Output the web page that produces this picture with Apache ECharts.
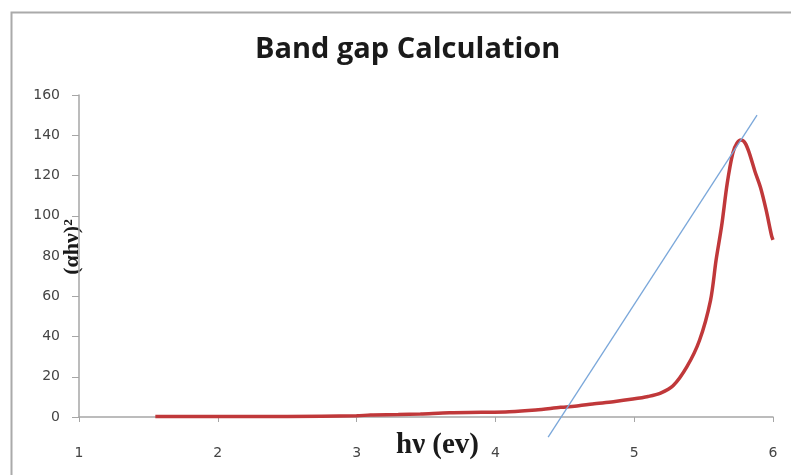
<!DOCTYPE html>
<html>
<head>
<meta charset="utf-8">
<script src="https://cdn.jsdelivr.net/npm/echarts@6/dist/echarts.min.js"></script>
<style>html,body{margin:0;padding:0;background:#fff}#c{width:791px;height:475px}</style>
</head>
<body>
<div id="c"></div>
<script>
const titleText = "Band gap Calculation";
const xAxisTitle = "hν (ev)";
const yAxisTitle = "(αhν)²";
const xTicks = [1, 2, 3, 4, 5, 6];
const yTicks = [0, 20, 40, 60, 80, 100, 120, 140, 160];

const curveX = [1.55, 2.0, 2.5, 3.0, 3.1, 3.3, 3.46, 3.67, 3.9, 4.1, 4.29, 4.47, 4.6, 4.7, 4.85, 4.99, 5.1, 5.19, 5.28, 5.38, 5.47, 5.55, 5.59, 5.63, 5.67, 5.71, 5.74, 5.77, 5.8, 5.83, 5.87, 5.91, 5.95, 5.99, 6.0];
const curveY = [0.2, 0.2, 0.3, 0.6, 1.0, 1.2, 1.5, 2.1, 2.3, 2.6, 3.5, 4.8, 5.6, 6.5, 7.6, 8.9, 10.2, 11.9, 15.5, 25, 38, 58, 78, 95, 116, 131, 136, 137.6, 136, 131, 122, 114, 103, 90, 88];

const fitX = [4.38, 5.885];
const fitY = [-10, 150];

const chart = echarts.init(document.getElementById('c'));
chart.setOption({
  animation: false,
  backgroundColor: '#fff',
  title: {
    text: titleText, left: 250, top: 30,
    textStyle: { fontFamily: 'Open Sans', fontWeight: 'bold', fontSize: 29, color: '#1a1a1a' }
  },
  grid: { left: 79, right: 18, top: 95, bottom: 58 },
  xAxis: {
    type: 'value', min: xTicks[0], max: xTicks[xTicks.length - 1], interval: 1,
    axisLine: { lineStyle: { color: '#a6a6a6', width: 1.5 } },
    axisTick: { show: true, length: 5, lineStyle: { color: '#a6a6a6' } },
    axisLabel: { margin: 29, fontFamily: 'DejaVu Sans', fontSize: 14, color: '#444' },
    splitLine: { show: false }
  },
  yAxis: {
    type: 'value', min: yTicks[0], max: yTicks[yTicks.length - 1], interval: 20,
    axisLine: { show: true, lineStyle: { color: '#a6a6a6', width: 1.5 } },
    axisTick: { show: true, length: 7, lineStyle: { color: '#a6a6a6' } },
    axisLabel: { margin: 19, fontFamily: 'DejaVu Sans', fontSize: 14, color: '#444' },
    splitLine: { show: false }
  },
  graphic: [
    { type: 'rect', left: 9, top: 10, shape: { width: 900, height: 600 }, style: { fill: 'none', stroke: '#aaa', lineWidth: 2 }, silent: true },
    { type: 'text', left: 396, top: 431, style: { text: xAxisTitle, font: 'bold 29px "Liberation Serif"', fill: '#1a1a1a' } },
    { type: 'text', x: 72, y: 247, rotation: Math.PI / 2, style: { text: yAxisTitle, font: 'bold 22px "Liberation Serif"', fill: '#1a1a1a', align: 'center', verticalAlign: 'middle' } }
  ],
  series: [
    {
      type: 'line', data: curveX.map((x, i) => [x, curveY[i]]), showSymbol: false, smooth: 0.3,
      lineStyle: { color: '#c0383a', width: 3.5 }, clip: false, z: 2
    },
    {
      type: 'line', data: fitX.map((x, i) => [x, fitY[i]]), showSymbol: false,
      lineStyle: { color: '#7aa7da', width: 1.3 }, clip: false, z: 3
    }
  ]
});
</script>
</body>
</html>
